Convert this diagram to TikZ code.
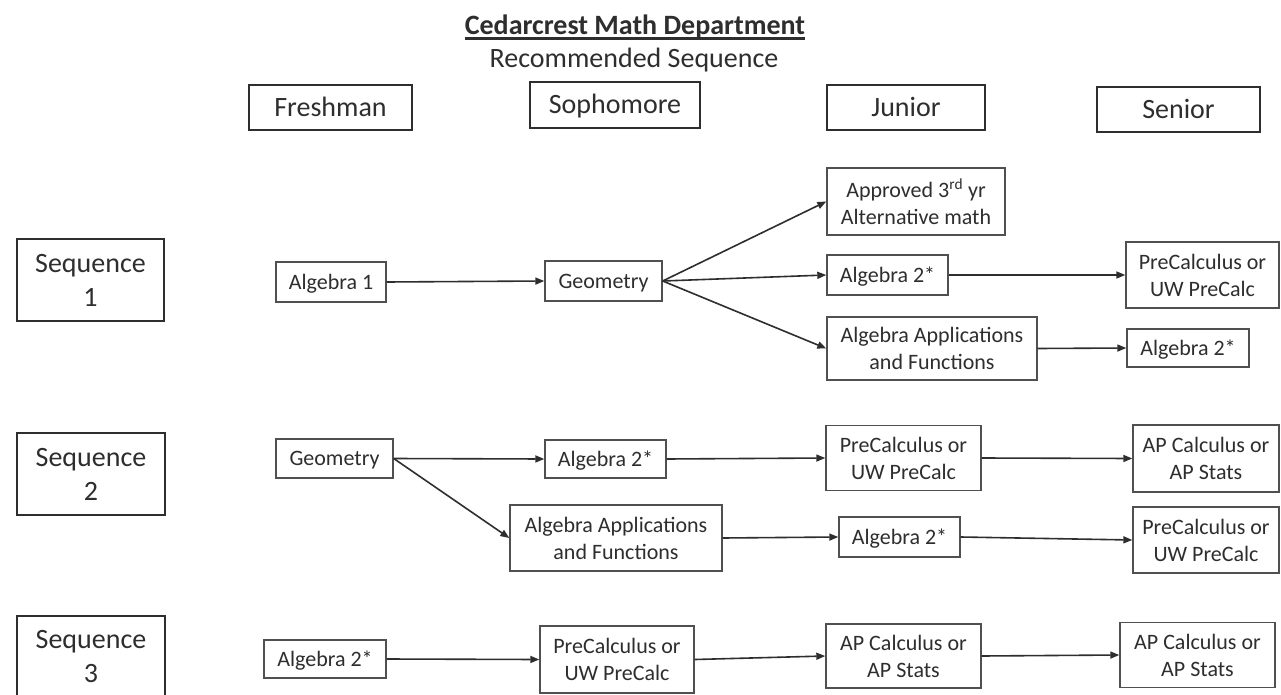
\documentclass[tikz,border=0pt]{standalone}
\usepackage{fontspec}
\setmainfont{Carlito}
\usetikzlibrary{arrows.meta}
\definecolor{ink}{HTML}{2E2E2E}
\definecolor{edgec}{HTML}{505050}
\begin{document}
\begin{tikzpicture}[x=1pt,y=1pt,
 big/.style={font=\fontsize{28}{34}\selectfont, text=ink},
 head/.style={draw=ink, line width=2.2pt, big, inner sep=0pt, align=center},
 sbox/.style={draw=edgec, line width=1.4pt, font=\fontsize{22}{27}\selectfont, text=ink, inner sep=0pt, align=center},
 oneline/.style={text height=17pt, text depth=3pt},
 onebig/.style={text height=22pt, text depth=4pt},
 arr/.style={draw=ink, line width=1.6pt, -{Triangle[length=9pt,width=7pt]}}
]
\fill[white] (0,0) rectangle (1281,-695);
\useasboundingbox (0,0) rectangle (1281,-695);
\clip (0,0) rectangle (1281,-695);

% title
\node[text=ink, font={\fontsize{28}{34}\selectfont\bfseries}, inner sep=0pt, anchor=base] (title) at (635,-35) {Cedarcrest Math Department};
\draw[ink, line width=2.2pt] ([yshift=-3.5pt]title.base west) -- ([yshift=-3.5pt]title.base east);
\node[big, inner sep=0pt, anchor=base] (rec) at (634,-68) {Recommended Sequence};

% column headers
\node[head, onebig, minimum width=163pt, minimum height=45pt] (fresh) at (330.5,-107.5) {Freshman};
\node[head, onebig, minimum width=170pt, minimum height=46pt] (soph) at (615,-105) {Sophomore};
\node[head, onebig, minimum width=158pt, minimum height=45pt] (jun) at (906,-107.5) {Junior};
\node[head, onebig, minimum width=163pt, minimum height=45pt] (sen) at (1178.5,-109.5) {Senior};

% sequence labels
\node[head, minimum width=147pt, minimum height=82pt] (seq1) at (90.5,-280) {Sequence\\1};
\node[head, minimum width=148pt, minimum height=82pt] (seq2) at (91,-474) {Sequence\\2};
\node[head, minimum width=148pt, minimum height=82pt] (seq3) at (91,-657) {Sequence\\3};

% row 1
\node[sbox, oneline, minimum width=110pt, minimum height=40pt] (alg1) at (331,-282) {Algebra 1};
\node[sbox, oneline, minimum width=117pt, minimum height=40pt] (geo1) at (603.5,-281) {Geometry};
\node[sbox, minimum width=178pt, minimum height=67pt] (appr) at (916,-201.5) {Approved 3\textsuperscript{rd} yr\\Alternative math};
\node[sbox, oneline, minimum width=121pt, minimum height=40pt] (alg2a) at (887.5,-275) {Algebra 2*};
\node[sbox, minimum width=210pt, minimum height=63pt] (aaf1) at (932,-348.5) {Algebra Applications\\and Functions};
\node[sbox, minimum width=153pt, minimum height=66pt] (pre1) at (1202.5,-275) {PreCalculus or\\UW PreCalc};
\node[sbox, oneline, minimum width=122pt, minimum height=38pt] (alg2b) at (1188,-348) {Algebra 2*};

% row 2
\node[sbox, oneline, minimum width=117pt, minimum height=39pt] (geo2) at (334.5,-458.5) {Geometry};
\node[sbox, oneline, minimum width=121pt, minimum height=38pt] (alg2c) at (605.5,-459) {Algebra 2*};
\node[sbox, minimum width=212pt, minimum height=66pt] (aaf2) at (616,-538) {Algebra Applications\\and Functions};
\node[sbox, minimum width=155pt, minimum height=65pt] (pre2) at (903.5,-458) {PreCalculus or\\UW PreCalc};
\node[sbox, minimum width=146pt, minimum height=67pt] (ap2) at (1206,-458.5) {AP Calculus or\\AP Stats};
\node[sbox, oneline, minimum width=121pt, minimum height=40pt] (alg2d) at (899.5,-537) {Algebra 2*};
\node[sbox, minimum width=146pt, minimum height=66pt] (pre2s) at (1206,-540) {PreCalculus or\\UW PreCalc};

% row 3
\node[sbox, oneline, minimum width=122pt, minimum height=38pt] (alg2e) at (325,-659) {Algebra 2*};
\node[sbox, minimum width=154pt, minimum height=67pt] (pre3) at (617,-659.5) {PreCalculus or\\UW PreCalc};
\node[sbox, minimum width=155pt, minimum height=64pt] (ap3) at (903.5,-656) {AP Calculus or\\AP Stats};
\node[sbox, minimum width=155pt, minimum height=65pt] (ap3s) at (1197.5,-655) {AP Calculus or\\AP Stats};

% connectors
\draw[arr] (alg1.east) -- (geo1.west);
\draw[arr] (geo1.east) -- (appr.west);
\draw[arr] (geo1.east) -- (alg2a.west);
\draw[arr] (geo1.east) -- (aaf1.west);
\draw[arr] (alg2a.east) -- (pre1.west);
\draw[arr] (aaf1.east) -- (alg2b.west);

\draw[arr] (geo2.east) -- (alg2c.west);
\draw[arr] (geo2.east) -- (aaf2.west);
\draw[arr] (alg2c.east) -- (pre2.west);
\draw[arr] (pre2.east) -- (ap2.west);
\draw[arr] (aaf2.east) -- (alg2d.west);
\draw[arr] (alg2d.east) -- (pre2s.west);

\draw[arr] (alg2e.east) -- (pre3.west);
\draw[arr] (pre3.east) -- (ap3.west);
\draw[arr] (ap3.east) -- (ap3s.west);
\end{tikzpicture}
\end{document}
